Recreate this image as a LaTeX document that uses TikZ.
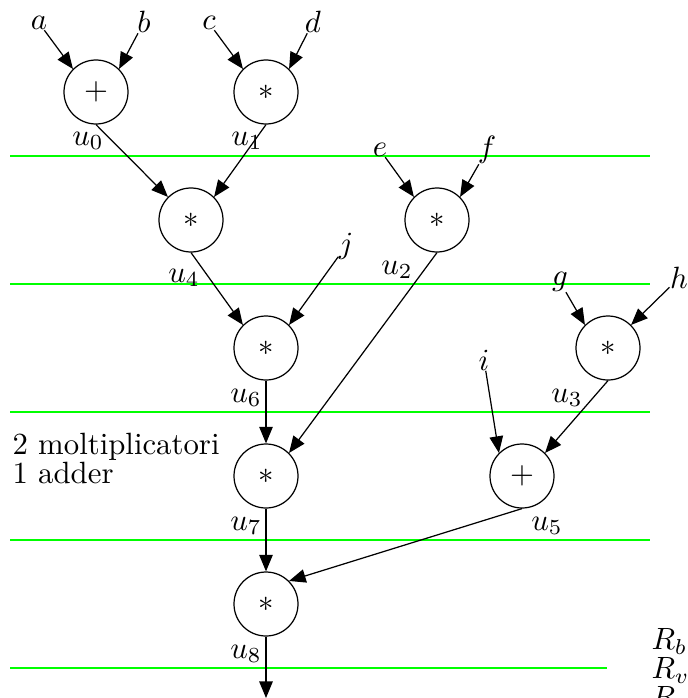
\documentclass[tikz,border=0pt]{standalone}
\usepackage{amsmath,amssymb}
\usepackage{tikz}
\usetikzlibrary{arrows.meta}
\begin{document}
\begin{tikzpicture}[x=0.325pt, y=-0.325pt,
  op/.style={draw, circle, minimum size=20.8pt, inner sep=0pt},
  inp/.style={inner sep=0pt},
  flow/.style={-{Triangle[length=5.4pt,width=4.4pt]}},
  stage/.style={green, line width=0.45pt}]
  \useasboundingbox (0,0) rectangle (688,698);
  % --- clock stages ---
  \foreach \y in {156,284,412,540}
    \draw[stage] (10,\y) -- (650,\y);
  \draw[stage] (10,668) -- (607,668);

  % --- operations ---
  \node[op] (n0) at (96,92) {$+$};
  \node[op] (n1) at (266,92) {$*$};
  \node[op] (n4) at (191,220) {$*$};
  \node[op] (n2) at (437,220) {$*$};
  \node[op] (n6) at (266,348) {$*$};
  \node[op] (n3) at (608,348) {$*$};
  \node[op] (n7) at (266,476) {$*$};
  \node[op] (n5) at (522,476) {$+$};
  \node[op] (n8) at (266,604) {$*$};

  % --- inputs ---
  \node[inp] (a) at (39,23) {$a$};
  \node[inp] (b) at (144,22) {$b$};
  \node[inp] (c) at (209,23) {$c$};
  \node[inp] (d) at (313,22) {$d$};
  \node[inp] (e) at (380,150) {$e$};
  \node[inp] (f) at (487,150) {$f$};
  \node[inp] (j) at (346,246) {$j$};
  \node[inp] (g) at (560,282) {$g$};
  \node[inp] (h) at (679,278) {$h$};
  \node[inp] (i) at (484,360) {$i$};

  % --- results ---
  \node (u0) at (88,141) {$u_0$};
  \node (u1) at (247,141) {$u_1$};
  \node (u4) at (184,278) {$u_4$};
  \node (u2) at (397,270) {$u_2$};
  \node (u6) at (246,398) {$u_6$};
  \node (u3) at (567,398) {$u_3$};
  \node (u7) at (246,526) {$u_7$};
  \node (u5) at (547,526) {$u_5$};
  \node (u8) at (246,654) {$u_8$};

  % --- edges ---
  \draw[flow] (a) -- (n0.north west);
  \draw[flow] (b) -- (n0.north east);
  \draw[flow] (c) -- (n1.north west);
  \draw[flow] (d) -- (n1.north east);
  \draw[flow] (e) -- (n2.north west);
  \draw[flow] (f) -- (n2.north east);
  \draw[flow] (g) -- (n3.north west);
  \draw[flow] (h) -- (n3.north east);
  \draw[flow] (j) -- (n6.north east);
  \draw[flow] (i) -- (n5.north west);
  \draw[flow] (n0.south) -- (n4.north west);
  \draw[flow] (n1.south) -- (n4.north east);
  \draw[flow] (n4.south) -- (n6.north west);
  \draw[flow] (n6.south) -- (n7.north);
  \draw[flow] (n2.south) -- (n7.north east);
  \draw[flow] (n3.south) -- (n5.north east);
  \draw[flow] (n7.south) -- (n8.north);
  \draw[flow] (n5.south) -- (n8.north east);
  \coordinate (out) at (266,698);
  \draw[flow] (n8.south) -- (out);

  % --- resources ---
  \node[align=left, anchor=north west, inner sep=0pt,
        font=\fontsize{10}{9.4}\selectfont] (res) at (12,433)
    {2 moltiplicatori\\1 adder};
  \node[align=left, anchor=north west, inner sep=0pt,
        font=\fontsize{10}{9.4}\selectfont] (regs) at (651,628)
    {$R_b$\\$R_v$\\$R_s$};
\end{tikzpicture}
\end{document}
